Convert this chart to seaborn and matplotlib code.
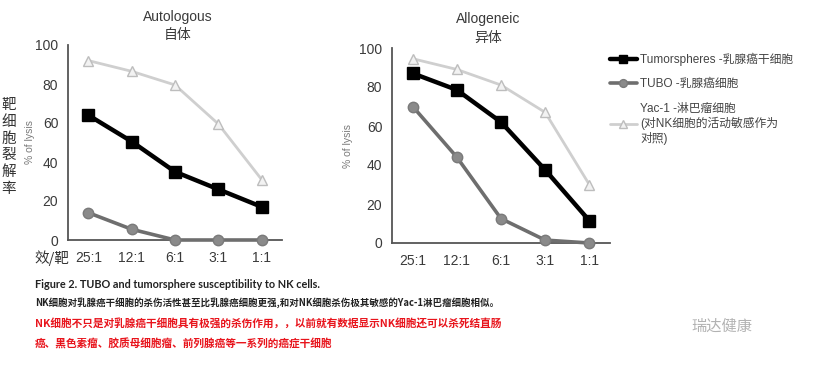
import matplotlib
matplotlib.use("Agg")
import matplotlib.pyplot as plt
import seaborn as sns
import pandas as pd

ratios = ["25:1", "12:1", "6:1", "3:1", "1:1"]
yticks = [0, 20, 40, 60, 80, 100]

auto_tumorspheres = [64, 50.5, 35, 26, 17]
auto_tubo = [14, 5.5, 0, 0, 0]
auto_yac = [92, 86.5, 79.5, 59.5, 31]

allo_tumorspheres = [87, 78.5, 62, 37.5, 11.5]
allo_tubo = [70, 44, 12.5, 1.5, 0]
allo_yac = [94.5, 89, 81, 67, 30]

series_names = ["Tumorspheres -乳腺癌干细胞", "TUBO -乳腺癌细胞",
                "Yac-1 -淋巴瘤细胞\n(对NK细胞的活动敏感作为\n对照)"]
panel_titles = ["Autologous\n自体", "Allogeneic\n异体"]

sns.set_theme(style="white")
plt.rcParams['font.family'] = ['Liberation Sans', 'Noto Sans CJK SC', 'DejaVu Sans']

fig = plt.figure(figsize=(8.17, 3.65), dpi=100)
W, H = 817, 365

def ax_rect(x0, x1, ytop, ybot):
    return [x0 / W, 1 - ybot / H, (x1 - x0) / W, (ybot - ytop) / H]

ax1 = fig.add_axes(ax_rect(68, 282, 45, 240))
ax2 = fig.add_axes(ax_rect(392, 610, 48, 243))

styles = [
    dict(color="#000000", lw=3.2, marker="s", ms=8.5, mfc="#000000", mec="#000000", mew=1, zorder=4),
    dict(color="#6e6e6e", lw=2.6, marker="o", ms=7.5, mfc="#8a8a8a", mec="#7a7a7a", mew=1, zorder=3),
    dict(color="#cfcfcf", lw=2.0, marker="^", ms=7.5, mfc="#f2f2f2", mec="#bdbdbd", mew=1, zorder=2),
]

panels = [
    (ax1, [auto_tumorspheres, auto_tubo, auto_yac]),
    (ax2, [allo_tumorspheres, allo_tubo, allo_yac]),
]
xpos = list(range(len(ratios)))
for ax, data in panels:
    for vals, st, name in zip(data, styles, series_names):
        df = pd.DataFrame({"x": xpos, "y": vals})
        sns.lineplot(data=df, x="x", y="y", ax=ax, color=st["color"], linewidth=st["lw"],
                     marker=st["marker"], markersize=st["ms"], markerfacecolor=st["mfc"],
                     markeredgecolor=st["mec"], markeredgewidth=st["mew"], zorder=st["zorder"],
                     label=name, clip_on=False)
    ax.set_xlim(-0.47, 4.47)
    ax.set_ylim(0, 100)
    ax.set_xticks(xpos)
    ax.set_xticklabels(ratios)
    ax.set_yticks(yticks)
    ax.tick_params(axis="both", length=0, labelsize=10, colors="#3a3a3a")
    ax.tick_params(axis="y", pad=7)
    ax.tick_params(axis="x", pad=8)
    for s in ["top", "right"]:
        ax.spines[s].set_visible(False)
    for s in ["left", "bottom"]:
        ax.spines[s].set_color("#555555")
        ax.spines[s].set_linewidth(1.3)
    ax.set_xlabel("")
    ax.set_ylabel("% of lysis", fontsize=7.5, color="#7a7a7a")
    if ax.get_legend():
        ax.get_legend().remove()
    ax.set_facecolor("none")

ax1.yaxis.set_label_coords(-0.155, 0.5)
ax2.yaxis.set_label_coords(-0.18, 0.5)

fig.text(178 / W, 1 - 26 / H, panel_titles[0], ha="center", va="center", fontsize=10,
         color="#3a3a3a", linespacing=1.45)
fig.text(488 / W, 1 - 28 / H, panel_titles[1], ha="center", va="center", fontsize=10,
         color="#3a3a3a", linespacing=1.45)

# Chinese side labels
fig.text(9 / W, 1 - 147 / H, "靶\n细\n胞\n裂\n解\n率", ha="center", va="center", fontsize=10.5,
         color="#333333", linespacing=1.25, family=['Noto Sans CJK SC', 'DejaVu Sans'])
fig.text(52 / W, 1 - 258 / H, "效/靶", ha="center", va="center", fontsize=10.5,
         color="#333333", family=['Noto Sans CJK SC', 'DejaVu Sans'])

# legend
handles, labels = ax2.get_legend_handles_labels()
leg = fig.legend(handles, labels, loc="upper left", bbox_to_anchor=(599 / W, 1 - 42 / H),
                 frameon=False, handlelength=2.3, handletextpad=0.3,
                 labelspacing=1.05, labelcolor="#444444", markerscale=0.75,
                 prop={'family': ['Liberation Sans', 'Noto Sans CJK SC'], 'size': 8.5})

# caption
cjk = ['Noto Sans CJK SC', 'DejaVu Sans']
fig.text(35 / W, 1 - 285 / H, "Figure 2. TUBO and tumorsphere susceptibility to NK cells.",
         ha="left", va="center", fontsize=7.8, fontweight="bold", color="#222222",
         family=['Lato', 'DejaVu Sans'])
fig.text(35 / W, 1 - 303 / H,
         "NK细胞对乳腺癌干细胞的杀伤活性甚至比乳腺癌细胞更强,和对NK细胞杀伤极其敏感的Yac-1淋巴瘤细胞相似。",
         ha="left", va="center", fontsize=6.8, fontweight="bold", color="#222222", family=cjk)
fig.text(35 / W, 1 - 323 / H,
         "NK细胞不只是对乳腺癌干细胞具有极强的杀伤作用，，以前就有数据显示NK细胞还可以杀死结直肠",
         ha="left", va="center", fontsize=7.7, fontweight="bold", color="#e8141c", family=cjk)
fig.text(35 / W, 1 - 344 / H,
         "癌、黑色素瘤、胶质母细胞瘤、前列腺癌等一系列的癌症干细胞",
         ha="left", va="center", fontsize=7.7, fontweight="bold", color="#e8141c", family=cjk)
fig.text(722 / W, 1 - 326 / H, "瑞达健康", ha="center", va="center", fontsize=11,
         color="#aaaaaa", alpha=0.9, family=cjk)

fig.savefig("out.png", dpi=100, facecolor="white")
